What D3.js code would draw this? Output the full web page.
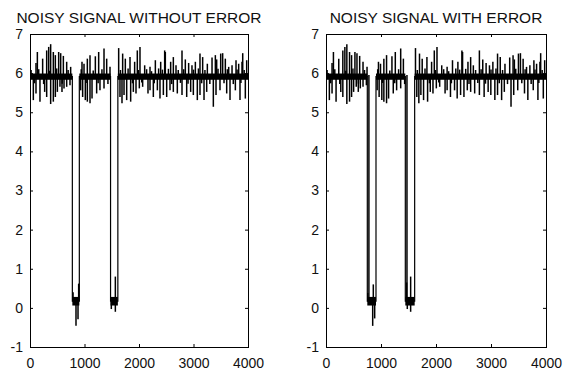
<!DOCTYPE html>
<html><head><meta charset="utf-8">
<script src="https://cdn.jsdelivr.net/npm/d3@7"></script>
<style>body{margin:0;background:#fff}svg{display:block}</style>
</head><body><svg id="c" width="571" height="372"></svg>
<script>
// ---------- data ----------
const titles = ["NOISY SIGNAL WITHOUT ERROR", "NOISY SIGNAL WITH ERROR"];
const xTicks = [0, 1000, 2000, 3000, 4000];
const yTicks = [-1, 0, 1, 2, 3, 4, 5, 6, 7];

// underlying signal level path [sample, value]
const level1 = [[0,5.91],[777,5.91],[777,0.17],[905,0.17],[905,5.91],[1478,5.91],[1478,0.17],[1612,0.17],[1612,5.91],[4000,5.91]];
const level2 = [[0,5.91],[751,5.91],[751,0.17],[909,0.17],[909,5.91],[1442,5.91],[1442,0.17],[1612,0.17],[1612,5.91],[4000,5.91]];

// dense noise band [from, to, low, high]
const band1 = [[0,777,5.83,5.99],[777,905,0.06,0.28],[905,1478,5.83,5.99],[1478,1612,0.06,0.28],[1612,4000,5.83,5.99]];
const band2 = [[0,751,5.83,5.99],[751,909,0.06,0.28],[909,1442,5.83,5.99],[1442,1612,0.06,0.28],[1612,4000,5.83,5.99]];

// noise spikes above the band [sample, value]
const upSpikes = [[110,6.26],[135,6.54],[232,6.37],[306,6.58],[343,6.67],[379,6.74],[428,6.54],[465,6.46],[526,6.54],[563,6.51],[612,6.44],[673,6.29],[746,6.16],
  [954,6.29],[991,6.24],[1052,6.37],[1101,6.46],[1199,6.43],[1260,6.54],[1358,6.63],[1407,6.37],[1468,6.16],
  [1627,6.64],[1700,6.50],[1749,6.37],[1835,6.41],[1920,6.29],[1969,6.58],[2018,6.67],[2104,6.20],[2202,6.16],[2300,6.33],[2398,6.29],[2471,6.58],[2483,6.54],[2581,6.29],[2630,6.41],[2679,6.20],[2789,6.58],[2850,6.35],[2911,6.26],[2972,6.20],[3034,6.29],[3119,6.50],[3168,6.41],[3254,6.24],[3340,6.40],[3401,6.46],[3425,6.35],[3499,6.50],[3535,6.51],[3584,6.37],[3646,6.16],[3707,6.20],[3780,6.33],[3829,6.24],[3890,6.29],[3903,6.51],[3976,6.33]];
// noise spikes below the band
const downSpikes = [[61,5.31],[110,5.48],[183,5.27],[269,5.52],[306,5.39],[379,5.21],[428,5.27],[465,5.39],[502,5.52],[550,5.65],[587,5.52],[624,5.61],[673,5.65],[734,5.69],
  [930,5.56],[966,5.39],[1015,5.31],[1052,5.27],[1101,5.23],[1138,5.35],[1223,5.48],[1284,5.56],[1358,5.61],
  [1651,5.39],[1688,5.23],[1725,5.44],[1774,5.31],[1847,5.27],[1896,5.52],[1945,5.48],[2006,5.61],[2067,5.65],[2165,5.48],[2202,5.56],[2263,5.39],[2337,5.56],[2385,5.35],[2447,5.44],[2508,5.39],[2569,5.56],[2630,5.52],[2703,5.48],[2789,5.44],[2875,5.39],[2948,5.52],[2997,5.44],[3070,5.31],[3119,5.44],[3193,5.31],[3242,5.52],[3364,5.14],[3413,5.44],[3486,5.56],[3609,5.48],[3670,5.31],[3768,5.56],[3853,5.31],[3951,5.35]];
// small fuzz around the band
const minorSpikes = [[20,6.08],[85,5.74],[160,6.10],[250,5.72],[360,6.06],[490,6.12],[590,5.73],[700,6.08],[940,6.10],[1030,5.75],[1160,6.07],[1250,5.74],[1320,6.10],[1430,5.72],
  [1660,6.08],[1800,6.12],[1880,5.74],[1990,6.08],[2050,5.76],[2140,6.10],[2230,6.05],[2280,5.74],[2360,6.12],[2430,6.09],[2540,6.11],[2600,5.72],[2720,6.08],[2760,5.75],[2820,6.10],[2900,5.73],[3000,6.09],[3090,6.12],[3150,5.74],[3210,6.08],[3300,5.72],[3450,6.11],[3560,5.74],[3620,6.10],[3730,5.72],[3800,6.09],[3870,5.75],[3930,6.08]];

// spikes inside the low segments [sample, value]
const lowSpikes1 = [[790,0.40],[844,-0.46],[881,-0.29],[893,0.62],[1492,-0.03],[1566,0.80],[1566,-0.10]];
const lowSpikes2 = [[760,0.38],[849,-0.46],[860,0.60],[885,-0.27],[1466,0.65],[1478,-0.03],[1539,0.80],[1539,-0.10]];
// erroneous samples in the low segments (second panel)
const errSpikes2 = [[780,5.95],[1472,5.95]];

// ---------- drawing ----------
const svg = d3.select("#c");
const font = "'Liberation Sans', Arial, Helvetica, sans-serif";
const panels = [
  {title: titles[0], level: level1, band: band1, low: lowSpikes1, err: [], x0: 30, x1: 248},
  {title: titles[1], level: level2, band: band2, low: lowSpikes2, err: errSpikes2, x0: 326, x1: 546}
];
const yTop = 34, yBot = 347;
const fmt = d => String(d);

function levelAt(level, s) {
  let v = level[0][1];
  for (let i = 0; i < level.length; i++) if (level[i][0] <= s) v = level[i][1];
  return v;
}

panels.forEach(p => {
  const x = d3.scaleLinear().domain([0, 4000]).range([p.x0, p.x1]);
  const y = d3.scaleLinear().domain([-1, 7]).range([yBot, yTop]);
  const g = svg.append("g");

  // noise band
  g.selectAll("rect.band").data(p.band).enter().append("rect")
    .attr("x", d => x(d[0])).attr("width", d => x(d[1]) - x(d[0]))
    .attr("y", d => y(d[3])).attr("height", d => y(d[2]) - y(d[3]))
    .attr("fill", "#000");

  // level path (transitions)
  g.append("path").datum(p.level)
    .attr("d", d3.line().x(d => x(d[0])).y(d => y(d[1])))
    .attr("fill", "none").attr("stroke", "#000").attr("stroke-width", 1.2);

  const inLow = s => levelAt(p.level, s) < 3;
  const main = upSpikes.concat(downSpikes, minorSpikes).filter(d => !inLow(d[0]));
  const spikes = main.concat(p.low, p.err);
  g.selectAll("line.sp").data(spikes).enter().append("line")
    .attr("x1", d => x(d[0])).attr("x2", d => x(d[0]))
    .attr("y1", d => y(levelAt(p.level, d[0]))).attr("y2", d => y(d[1]))
    .attr("stroke", "#000").attr("stroke-width", 1.5);

  // axes
  const ax = [
    d3.axisBottom(x).tickValues(xTicks).tickSizeInner(-3).tickSizeOuter(0).tickPadding(11).tickFormat(fmt),
    d3.axisTop(x).tickValues(xTicks).tickSizeInner(-3).tickSizeOuter(0).tickFormat(""),
    d3.axisLeft(y).tickValues(yTicks).tickSizeInner(-3).tickSizeOuter(0).tickPadding(7).tickFormat(fmt),
    d3.axisRight(y).tickValues(yTicks).tickSizeInner(-3).tickSizeOuter(0).tickFormat("")
  ];
  const pos = [[0, yBot], [0, yTop], [p.x0, 0], [p.x1, 0]];
  ax.forEach((a, i) => {
    const ag = g.append("g").attr("transform", `translate(${pos[i][0]},${pos[i][1]})`).call(a);
    ag.select(".domain").remove();
    ag.selectAll("line").attr("stroke", "#000");
    ag.selectAll("text").attr("fill", "#111").style("font-family", font).style("font-size", "14px");
  });

  g.append("rect").attr("x", p.x0 + 0.5).attr("y", yTop + 0.5)
    .attr("width", p.x1 - p.x0).attr("height", yBot - yTop)
    .attr("fill", "none").attr("stroke", "#000").attr("stroke-width", 1);

  g.append("text").attr("x", (p.x0 + p.x1) / 2).attr("y", 23)
    .attr("text-anchor", "middle").attr("fill", "#111")
    .style("font-family", font).style("font-size", "15.5px")
    .text(p.title);
});
</script></body></html>
